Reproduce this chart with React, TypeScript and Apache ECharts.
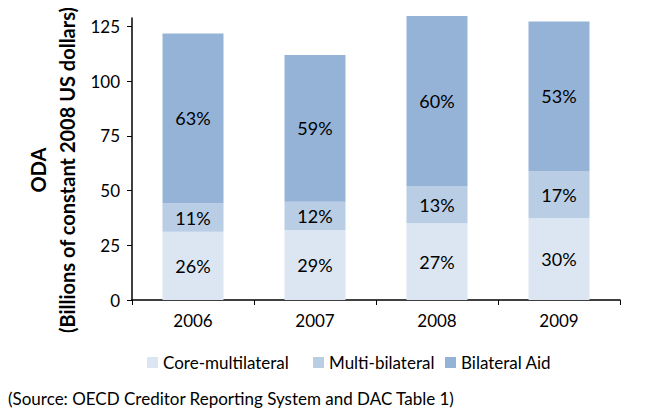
import React, { useEffect, useRef } from "react";
import * as echarts from "echarts";

const categories = ["2006", "2007", "2008", "2009"];
const coreMultilateral = [31.2, 32.0, 35.1, 37.4];
const multiBilateral = [13.0, 12.9, 17.0, 21.4];
const bilateralAid = [77.7, 67.1, 77.8, 68.6];
const coreLabels = ["26%", "29%", "27%", "30%"];
const multiLabels = ["11%", "12%", "13%", "17%"];
const bilateralLabels = ["63%", "59%", "60%", "53%"];
const seriesNames = ["Core-multilateral", "Multi-bilateral", "Bilateral Aid"];
const yTicks = [0, 25, 50, 75, 100, 125];
const yMax = 129;

const FONT = "Lato, 'Open Sans', sans-serif";

export default function App() {
  const ref = useRef<HTMLDivElement>(null);
  useEffect(() => {
    if (!ref.current) return;
    const chart = echarts.init(ref.current, undefined, { renderer: "svg" });
    const mkSeries = (name: string, data: number[], labels: string[], color: string) => ({
      name,
      type: "bar",
      stack: "total",
      data,
      clip: false,
      barWidth: "50%",
      itemStyle: { color },
      label: {
        show: true,
        position: "inside",
        formatter: (p: any) => labels[p.dataIndex],
        color: "#000",
        fontFamily: FONT,
        fontSize: 18,
      },
    });
    const legendLefts = [142, 308, 440];
    chart.setOption({
      animation: false,
      textStyle: { fontFamily: FONT },
      grid: { left: 132, right: 51, top: 17.9, bottom: 119 },
      legend: seriesNames.map((n, i) => ({
        bottom: 43,
        left: legendLefts[i],
        itemWidth: 11,
        itemHeight: 11,
        itemGap: 5,
        icon: "rect",
        textStyle: { fontFamily: FONT, fontSize: 17, color: "#000" },
        data: [n],
      })),
      xAxis: {
        type: "category",
        data: categories,
        axisLine: { lineStyle: { color: "#000", width: 1.5 } },
        axisTick: { show: true, length: 5, lineStyle: { color: "#000" } },
        axisLabel: { color: "#000", fontSize: 17, fontFamily: FONT, margin: 12 },
      },
      yAxis: {
        type: "value",
        min: 0,
        max: yMax,
        splitLine: { show: false },
        axisLine: { show: true, lineStyle: { color: "#000", width: 1.5 } },
        axisTick: { show: true, length: 5, lineStyle: { color: "#000" }, customValues: yTicks },
        axisLabel: { color: "#000", fontSize: 17, fontFamily: FONT, margin: 12, customValues: yTicks },
      },
      graphic: [
        {
          type: "text",
          x: 38,
          y: 170,
          rotation: Math.PI / 2,
          style: {
            text: "ODA",
            fontFamily: FONT,
            fontWeight: "bold",
            fontSize: 20,
            fill: "#000",
            textAlign: "center",
            textVerticalAlign: "middle",
          },
        },
        {
          type: "text",
          x: 67,
          y: 170,
          rotation: Math.PI / 2,
          style: {
            text: "(Billions of constant 2008 US dollars)",
            fontFamily: FONT,
            fontWeight: "bold",
            fontSize: 20,
            fill: "#000",
            textAlign: "center",
            textVerticalAlign: "middle",
          },
        },
        {
          type: "text",
          left: 8,
          top: 390,
          style: {
            text: "(Source: OECD Creditor Reporting System and DAC Table 1)",
            fontFamily: FONT,
            fontSize: 17,
            fill: "#000",
          },
        },
      ],
      series: [
        mkSeries(seriesNames[0], coreMultilateral, coreLabels, "#DCE6F2"),
        mkSeries(seriesNames[1], multiBilateral, multiLabels, "#B9CDE5"),
        mkSeries(seriesNames[2], bilateralAid, bilateralLabels, "#95B3D7"),
      ],
    });
    return () => chart.dispose();
  }, []);
  return <div ref={ref} style={{ width: 671, height: 419, margin: -8 }} />;
}
